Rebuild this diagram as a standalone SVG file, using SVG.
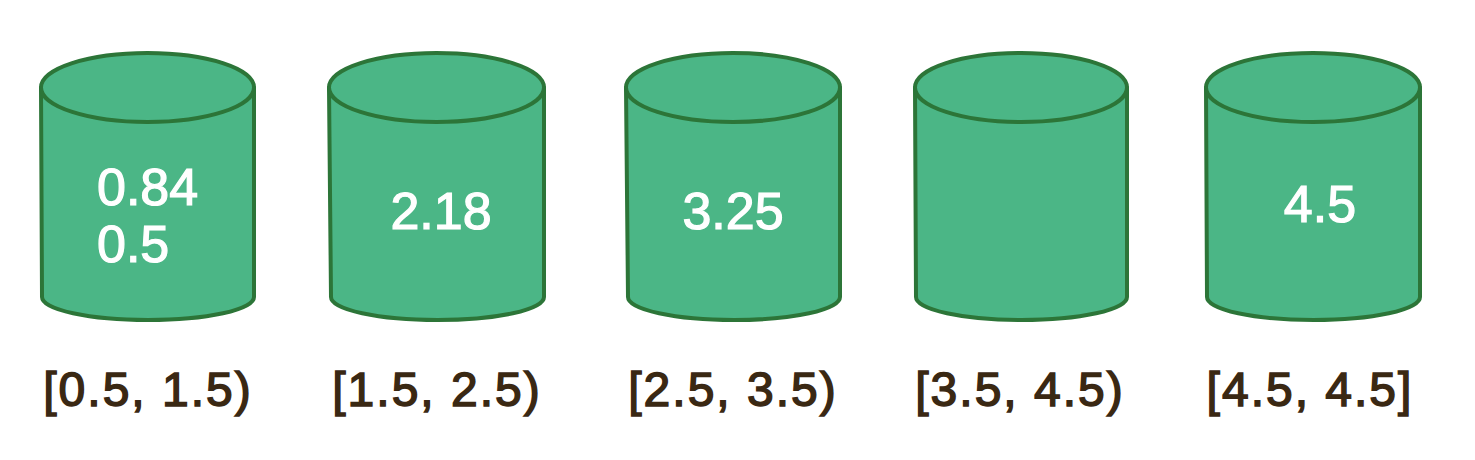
<svg xmlns="http://www.w3.org/2000/svg" width="1475" height="460" viewBox="0 0 1475 460">
<style>
.body{fill:#4bb686;stroke:#2c7538;stroke-width:4;stroke-linejoin:round}
.top{fill:#4bb686;stroke:#2c7538;stroke-width:4}
.val{font-family:"Liberation Sans",Arial,sans-serif;font-size:52px;fill:#ffffff;stroke:#ffffff;stroke-width:1.2}
.lbl{font-family:"Liberation Sans",Arial,sans-serif;font-size:48px;fill:#3a2813;stroke:#3a2813;stroke-width:1.5;letter-spacing:2px;text-anchor:middle}
</style>
<rect width="1475" height="460" fill="#ffffff"/>
<g id="bucket1">
<path class="body" d="M41,87.5 L42,297 A106,23 0 0 0 254,297 L254,87.5 Z"/>
<ellipse class="top" cx="147.5" cy="87.5" rx="106.5" ry="34.5"/>
<text class="val" x="97" y="205">0.84</text>
<text class="val" x="97" y="262">0.5</text>
<text class="lbl" x="148" y="406">[0.5, 1.5)</text>
</g>
<g id="bucket2">
<path class="body" d="M329,87.5 L331,297 A106.5,23 0 0 0 544,297 L544,87.5 Z"/>
<ellipse class="top" cx="436.5" cy="87.5" rx="107.5" ry="34.5"/>
<text class="val" x="441" y="229" text-anchor="middle">2.18</text>
<text class="lbl" x="437" y="406">[1.5, 2.5)</text>
</g>
<g id="bucket3">
<path class="body" d="M626,87.5 L628,297 A106,23 0 0 0 840,297 L840,87.5 Z"/>
<ellipse class="top" cx="733" cy="87.5" rx="107" ry="34.5"/>
<text class="val" x="733" y="229" text-anchor="middle">3.25</text>
<text class="lbl" x="733" y="406">[2.5, 3.5)</text>
</g>
<g id="bucket4">
<path class="body" d="M915,87.5 L916,297 A105.5,23 0 0 0 1127,297 L1127,87.5 Z"/>
<ellipse class="top" cx="1021" cy="87.5" rx="106" ry="34.5"/>
<text class="lbl" x="1020" y="406">[3.5, 4.5)</text>
</g>
<g id="bucket5">
<path class="body" d="M1206,87.5 L1207,297 A106.5,23 0 0 0 1420,297 L1420,87.5 Z"/>
<ellipse class="top" cx="1313" cy="87.5" rx="107" ry="34.5"/>
<text class="val" x="1320" y="222" text-anchor="middle">4.5</text>
<text class="lbl" x="1310" y="406">[4.5, 4.5]</text>
</g>
<g id="connectors"/>
</svg>
